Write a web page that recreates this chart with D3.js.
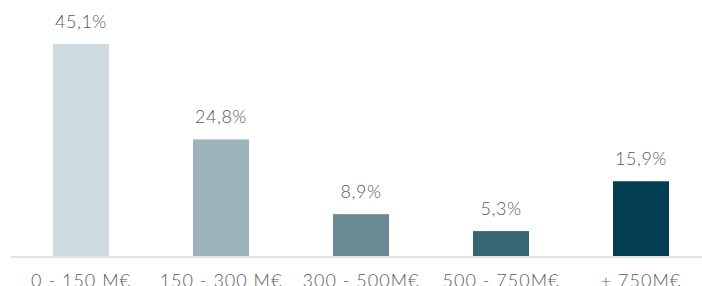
<!DOCTYPE html>
<meta charset="utf-8">
<script src="https://d3js.org/d3.v7.min.js"></script>
<style>
  body { margin: 0; background: #fff; }
  text { font-family: Lato, "Open Sans", sans-serif; font-weight: 300; fill: #595959; }
</style>
<div id="my_dataviz"></div>
<script>

    // data
    var categories = ["0 - 150 M€", "150 - 300 M€", "300 - 500M€", "500 - 750M€", "+ 750M€"];
    var values = [45.1, 24.8, 8.9, 5.3, 15.9];
    var valueLabels = ["45,1%", "24,8%", "8,9%", "5,3%", "15,9%"];
    var colors = ["#cddbe0", "#9bb3b9", "#6a8b95", "#376673", "#033e52"];

    var width = 702, height = 286;
    var baseline = 256;

    var svg = d3.select("#my_dataviz")
      .append("svg")
        .attr("width", width)
        .attr("height", height);

    // x: band scale
    var x = d3.scaleBand()
      .domain(categories)
      .range([11, 711])
      .paddingInner(0.6)
      .paddingOuter(0.3);

    // y
    var y = d3.scaleLinear()
      .domain([0, 45.1])
      .range([baseline, 44]);

    // bars
    svg.append("g")
      .selectAll("rect")
      .data(values)
      .enter()
      .append("rect")
        .attr("x", function(d, i) { return x(categories[i]); })
        .attr("y", function(d) { return y(d); })
        .attr("width", x.bandwidth())
        .attr("height", function(d) { return y(0) - y(d); })
        .style("fill", function(d, i) { return colors[i]; });

    // axis line
    svg.append("line")
      .attr("x1", 11)
      .attr("x2", width)
      .attr("y1", baseline + 1)
      .attr("y2", baseline + 1)
      .attr("stroke", "#e3e3e3")
      .attr("stroke-width", 2);

    // value labels
    svg.append("g")
      .selectAll("text")
      .data(values)
      .enter()
      .append("text")
        .attr("x", function(d, i) { return x(categories[i]) + x.bandwidth() / 2; })
        .attr("y", function(d) { return y(d) - 16; })
        .attr("text-anchor", "middle")
        .style("font-size", "18px")
        .style("letter-spacing", "0.5px")
        .text(function(d, i) { return valueLabels[i]; });

    // category labels
    svg.append("g")
      .selectAll("text")
      .data(categories)
      .enter()
      .append("text")
        .attr("x", function(d) { return x(d) + x.bandwidth() / 2; })
        .attr("y", 287)
        .attr("text-anchor", "middle")
        .style("font-size", "18px")
        .style("letter-spacing", "1px")
        .text(function(d) { return d; });

</script>
